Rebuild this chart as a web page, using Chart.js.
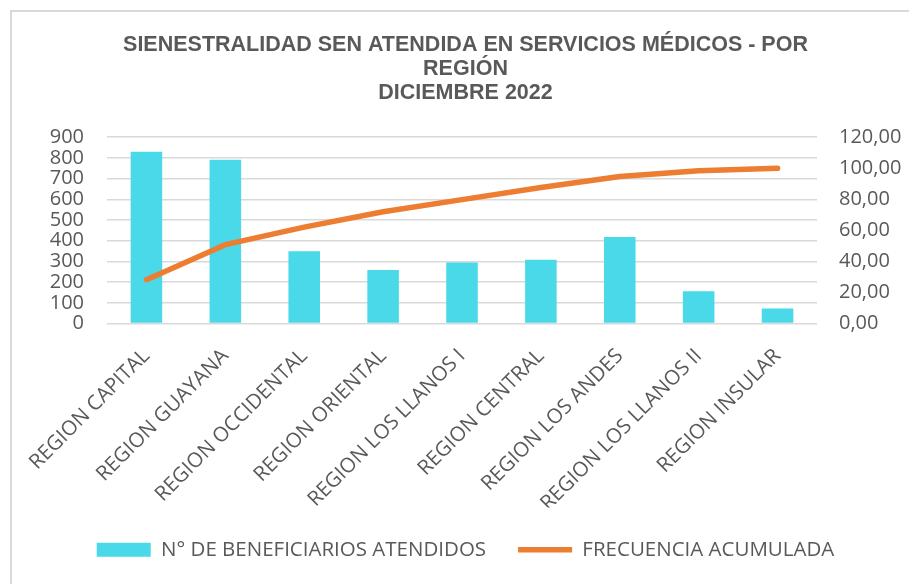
<!DOCTYPE html>
<html>
<head>
<meta charset="utf-8">
<script src="https://cdn.jsdelivr.net/npm/chart.js@4"></script>
<style>
  html, body { margin: 0; padding: 0; background: #fff; }
  #wrap { position: relative; width: 909px; height: 584px; }
  #frame { position: absolute; left: 10px; top: 10px; right: -5px; bottom: -5px;
           border-left: 2px solid #d9d9d9; border-top: 2px solid #d9d9d9; }
  canvas { position: absolute; left: 0; top: 0; }
</style>
</head>
<body>
<div id="wrap">
  <div id="frame"></div>
  <canvas id="chart" width="909" height="584"></canvas>
</div>
<script>
const categories = [
  "REGION CAPITAL", "REGION GUAYANA", "REGION OCCIDENTAL", "REGION ORIENTAL",
  "REGION LOS LLANOS I", "REGION CENTRAL", "REGION LOS ANDES", "REGION LOS LLANOS II",
  "REGION INSULAR"
];
const beneficiarios = [830, 791, 349, 258, 295, 308, 418, 156, 73];
const frecuencia = [28.2, 50.8, 62.1, 72.0, 79.8, 87.6, 94.7, 98.4, 100];
const titleLines = ["SIENESTRALIDAD SEN ATENDIDA EN SERVICIOS MÉDICOS - POR", "REGIÓN", "DICIEMBRE 2022"];

const gray = '#595959';
const tickFont = { family: "'Open Sans'", size: 20, lineHeight: 1 };
const labelFont = { family: "'Open Sans'", size: 20.5, lineHeight: 1 };

document.addEventListener("DOMContentLoaded", function () {
  const ctx = document.getElementById('chart').getContext('2d');
  new Chart(ctx, {
    data: {
      labels: categories,
      datasets: [
        {
          type: 'line',
          label: 'FRECUENCIA ACUMULADA',
          data: frecuencia,
          yAxisID: 'y2',
          borderColor: '#ed7d31',
          backgroundColor: '#ed7d31',
          borderWidth: 5.5,
          borderCapStyle: 'round',
          borderJoinStyle: 'round',
          pointRadius: 0,
          pointStyle: 'line',
          tension: 0,
          order: 0
        },
        {
          type: 'bar',
          label: 'N° DE BENEFICIARIOS ATENDIDOS',
          data: beneficiarios,
          yAxisID: 'y',
          backgroundColor: '#4ad9e8',
          borderWidth: 0,
          pointStyle: 'rect',
          categoryPercentage: 1,
          barPercentage: 0.4,
          order: 1
        }
      ]
    },
    options: {
      responsive: false,
      animation: false,
      layout: { padding: { left: 22, right: 0, top: 0, bottom: 14 } },
      plugins: {
        title: {
          display: true,
          text: titleLines,
          color: gray,
          font: { family: "'Liberation Sans'", size: 21.5, weight: 'bold', lineHeight: 1.12 },
          padding: { top: 33, bottom: 32 }
        },
        legend: {
          position: 'bottom',
          reverse: true,
          labels: {
            color: gray,
            font: { family: "'Open Sans'", size: 20.5 },
            usePointStyle: true,
            pointStyleWidth: 54,
            boxHeight: 14,
            padding: 32
          }
        },
        tooltip: { enabled: false }
      },
      scales: {
        x: {
          offset: true,
          grid: { display: false },
          border: { display: false },
          ticks: {
            color: gray, font: labelFont, minRotation: 45, maxRotation: 45,
            autoSkip: false, padding: 14
          },
          afterFit: function (scale) { scale.height = 184; }
        },
        y: {
          position: 'left',
          min: 0, max: 900,
          grid: { color: '#d9d9d9', lineWidth: 1.5, drawTicks: false },
          border: { display: false },
          ticks: { stepSize: 100, color: gray, font: tickFont, padding: 23, autoSkip: false },
          afterFit: function (scale) { scale.width = 85; }
        },
        y2: {
          position: 'right',
          min: 0, max: 120,
          grid: { display: false, drawTicks: false },
          border: { display: false },
          ticks: {
            stepSize: 20, color: gray, font: tickFont, padding: 22, autoSkip: false,
            callback: function (v) { return v.toFixed(2).replace('.', ','); }
          },
          afterFit: function (scale) { scale.width = 92; }
        }
      }
    }
  });
});
</script>
</body>
</html>
